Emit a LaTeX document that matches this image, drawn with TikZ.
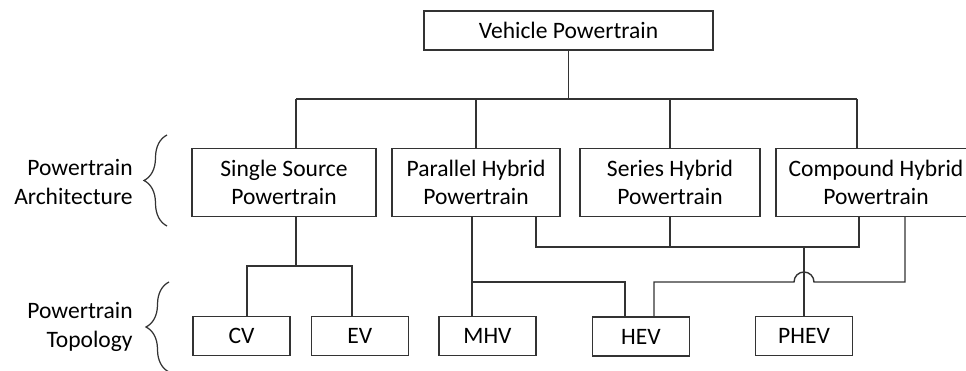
\documentclass[tikz,border=0pt]{standalone}
\usepackage{fontspec}
\setmainfont{Carlito}
\usetikzlibrary{positioning, decorations.pathreplacing}

\begin{document}
\begin{tikzpicture}[x=0.02cm, y=-0.02cm]
    \tikzstyle{wire}=[draw=black!80, line width=0.8pt]
    \tikzstyle{rootbox}=[draw=black!80, line width=0.8pt, rectangle, minimum width=5.78cm, minimum height=0.78cm, font=\fontsize{13.4pt}{16.4pt}\selectfont, text=black]
    \tikzstyle{archbox}=[draw=black!80, line width=0.8pt, rectangle, minimum height=1.36cm, align=center, font=\fontsize{13.4pt}{16.4pt}\selectfont, text=black]
    \tikzstyle{leafbox}=[draw=black!80, line width=0.8pt, rectangle, minimum width=1.94cm, minimum height=0.78cm, font=\fontsize{13.4pt}{16.4pt}\selectfont, text=black]
    \tikzstyle{sidelabel}=[inner sep=0, align=right, anchor=east, font=\fontsize{13.4pt}{16.4pt}\selectfont, text=black]
    \tikzstyle{bracket}=[draw=black!80, line width=0.7pt, decorate, decoration={brace, amplitude=0.46cm}]

    \clip (0,0) rectangle (966,371);

    % Vehicle Powertrain
    \node[rootbox] (vp) at (568.5,30.5) {Vehicle Powertrain};

    % Powertrain Architecture
    \node[archbox, minimum width=3.68cm] (ss) at (284,182.5) {Single Source\\Powertrain};
    \node[archbox, minimum width=3.36cm] (ph) at (476,182.5) {Parallel Hybrid\\Powertrain};
    \node[archbox, minimum width=3.6cm] (sh) at (670,182.5) {Series Hybrid\\Powertrain};
    \node[archbox, minimum width=4cm] (ch) at (876,182.5) {Compound Hybrid\\Powertrain};

    % Powertrain Topology
    \node[leafbox] (cv) at (241.5,336) {CV};
    \node[leafbox, right=0.4cm of cv] (ev) {EV};
    \node[leafbox] (mhv) at (487.5,336) {MHV};
    \node[leafbox] (hev) at (641,336.5) {HEV};
    \node[leafbox] (phev) at (804,336) {PHEV};

    % Side labels
    \node[sidelabel] (arch_lbl) at (133,182) {Powertrain\\Architecture};
    \node[sidelabel] (topo_lbl) at (133,327) {Powertrain\\Topology};
    \draw[bracket] (167,226) -- (167,135);
    \draw[bracket] (169,372) -- (169,282);

    % Top bus
    \coordinate (bus_ss) at (296,99);
    \coordinate (bus_ch) at (857,99);
    \draw[wire] (vp.south) -- (vp.south |- bus_ss);
    \draw[wire] (bus_ss) -- (bus_ch);
    \draw[wire] (bus_ss) -- (bus_ss |- ss.north);
    \draw[wire] (ph.north |- bus_ss) -- (ph.north);
    \draw[wire] (sh.north |- bus_ss) -- (sh.north);
    \draw[wire] (bus_ch) -- (bus_ch |- ch.north);

    % Single source to CV / EV
    \coordinate (ss_split) at (296,266);
    \coordinate (cv_drop) at (247,266);
    \coordinate (ev_drop) at (352,266);
    \draw[wire] (ss.south -| ss_split) -- (ss_split);
    \draw[wire] (cv.north -| cv_drop) -- (cv_drop) -- (ev_drop) -- (ev.north -| ev_drop);

    % Parallel hybrid to MHV / HEV
    \coordinate (mhv_drop) at (472,282);
    \coordinate (hev_left) at (625,282);
    \draw[wire] (ph.south -| mhv_drop) -- (mhv.north -| mhv_drop);
    \draw[wire] (mhv_drop) -- (hev_left) -- (hev.north -| hev_left);

    % Series / compound bus to PHEV
    \coordinate (ser_l) at (536,247);
    \coordinate (ser_r) at (859,247);
    \draw[wire] (ph.south -| ser_l) -- (ser_l) -- (ser_r) -- (ch.south -| ser_r);
    \draw[wire] (sh.south) -- (sh.south |- ser_l);
    \draw[wire] (phev.north |- ser_l) -- (phev.north);

    % Compound hybrid to HEV, jumping over the PHEV line
    \coordinate (cmp_r) at (905,282);
    \coordinate (hev_right) at (654,282);
    \draw[wire] (ch.south -| cmp_r) -- (cmp_r) -- ([xshift=0.2cm]phev.north |- cmp_r)
        arc[start angle=0, end angle=180, radius=0.2cm] -- (hev_right) -- (hev.north -| hev_right);
\end{tikzpicture}
\end{document}
